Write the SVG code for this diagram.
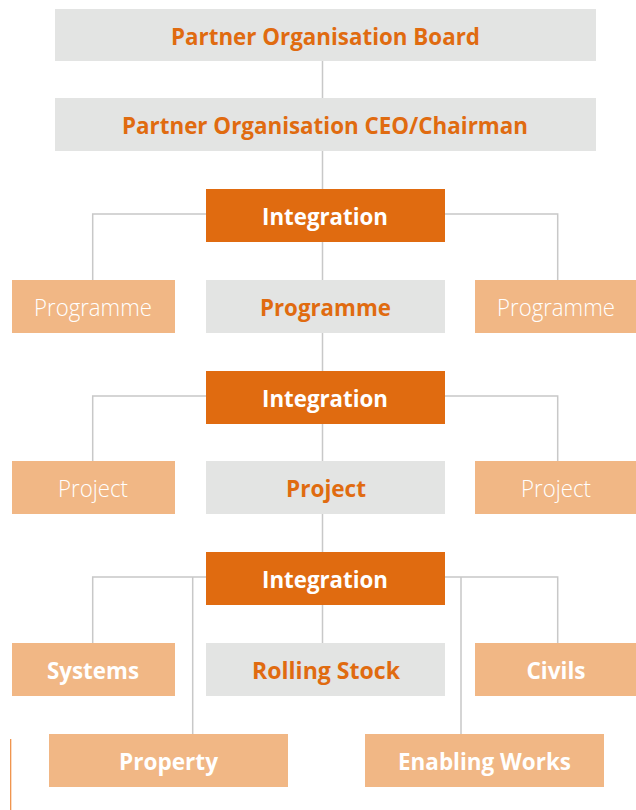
<svg xmlns="http://www.w3.org/2000/svg" width="636" height="810" viewBox="0 0 636 810">
<style>
.grey{fill:#e3e4e3}
.dark{fill:#e06b10}
.light{fill:#f1b785}
text{font-family:"Open Sans","Noto Sans","Liberation Sans",sans-serif;text-anchor:middle;font-size:23px}
.b{font-weight:700}
.t{font-weight:300}
.og{fill:#e06b10}
.wh{fill:#ffffff}
.con{stroke:#c8c8c8;stroke-width:1.5;fill:none}
</style>
<rect width="636" height="810" fill="#ffffff"/>
<g id="connectors">
<path class="con" d="M322.5 61V643"/>
<path class="con" d="M206 214H92.7V280M445 214H557.7V280"/>
<path class="con" d="M206 396H92.7V461M445 396H557.7V461"/>
<path class="con" d="M206 577H92.7V643M192.7 577V734M445 577H557.7V643M461 577V734"/>
</g>
<line x1="10.7" y1="739" x2="10.7" y2="810" stroke="#ef8a3c" stroke-width="1.2"/>
<g id="board"><rect class="grey" x="55" y="9" width="541" height="52"/><text class="b og" x="325.5" y="44.5" textLength="309" lengthAdjust="spacingAndGlyphs">Partner Organisation Board</text></g>
<g id="ceo"><rect class="grey" x="55" y="98" width="541" height="53"/><text class="b og" x="325" y="134" textLength="406" lengthAdjust="spacingAndGlyphs">Partner Organisation CEO/Chairman</text></g>
<g id="integration1"><rect class="dark" x="206" y="189" width="239" height="53"/><text class="b wh" x="325" y="225" textLength="126" lengthAdjust="spacingAndGlyphs">Integration</text></g>
<g id="programme-left"><rect class="light" x="12" y="280" width="163" height="53"/><text class="t wh" x="93" y="316" textLength="118" lengthAdjust="spacingAndGlyphs">Programme</text></g>
<g id="programme"><rect class="grey" x="206" y="280" width="239" height="53"/><text class="b og" x="325.5" y="315.5" textLength="131" lengthAdjust="spacingAndGlyphs">Programme</text></g>
<g id="programme-right"><rect class="light" x="475" y="280" width="161" height="53"/><text class="t wh" x="556" y="316" textLength="118" lengthAdjust="spacingAndGlyphs">Programme</text></g>
<g id="integration2"><rect class="dark" x="206" y="371" width="239" height="53"/><text class="b wh" x="325" y="407" textLength="126" lengthAdjust="spacingAndGlyphs">Integration</text></g>
<g id="project-left"><rect class="light" x="12" y="461" width="163" height="53"/><text class="t wh" x="93" y="497" textLength="70" lengthAdjust="spacingAndGlyphs">Project</text></g>
<g id="project"><rect class="grey" x="206" y="461" width="239" height="53"/><text class="b og" x="326" y="497" textLength="80" lengthAdjust="spacingAndGlyphs">Project</text></g>
<g id="project-right"><rect class="light" x="475" y="461" width="161" height="53"/><text class="t wh" x="556" y="497" textLength="70" lengthAdjust="spacingAndGlyphs">Project</text></g>
<g id="integration3"><rect class="dark" x="206" y="552" width="239" height="53"/><text class="b wh" x="325" y="588" textLength="126" lengthAdjust="spacingAndGlyphs">Integration</text></g>
<g id="systems"><rect class="light" x="12" y="643" width="163" height="53"/><text class="b wh" x="93" y="679" textLength="92" lengthAdjust="spacingAndGlyphs">Systems</text></g>
<g id="rolling-stock"><rect class="grey" x="206" y="643" width="239" height="53"/><text class="b og" x="326" y="679" textLength="148" lengthAdjust="spacingAndGlyphs">Rolling Stock</text></g>
<g id="civils"><rect class="light" x="475" y="643" width="161" height="53"/><text class="b wh" x="556" y="679" textLength="59" lengthAdjust="spacingAndGlyphs">Civils</text></g>
<g id="property"><rect class="light" x="49" y="734" width="239" height="53"/><text class="b wh" x="168.5" y="770" textLength="99" lengthAdjust="spacingAndGlyphs">Property</text></g>
<g id="enabling-works"><rect class="light" x="365" y="734" width="239" height="53"/><text class="b wh" x="484.5" y="770" textLength="173" lengthAdjust="spacingAndGlyphs">Enabling Works</text></g>
</svg>
